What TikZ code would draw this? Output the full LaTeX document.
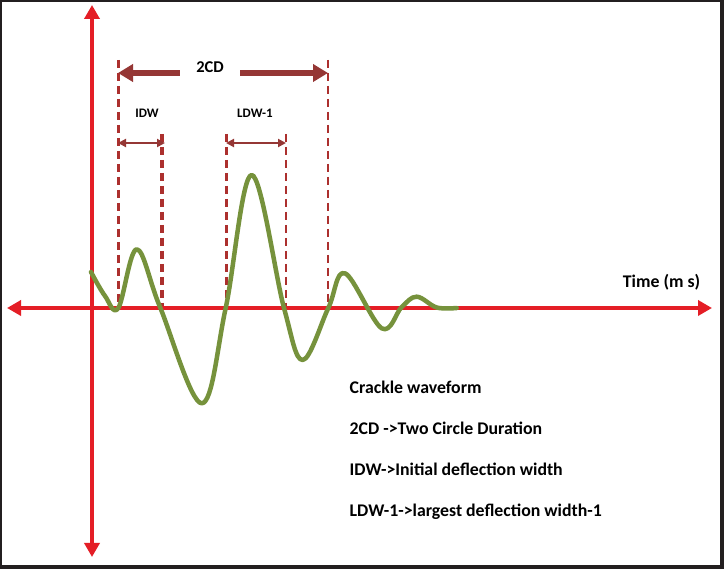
\documentclass[tikz,border=0pt]{standalone}
\usepackage{fontspec}
\setmainfont{Carlito}
\usetikzlibrary{arrows.meta, positioning}
\definecolor{RougeAxe}{RGB}{228,30,38}
\definecolor{Bordeaux}{RGB}{149,55,53}
\definecolor{BordeauxClair}{RGB}{172,48,46}
\definecolor{VertOlive}{RGB}{118,146,60}
\definecolor{GrisCadre}{RGB}{35,31,32}
\tikzset{axe/.style={draw=RougeAxe, line width=4pt,
  {Triangle[length=14pt,width=15pt]}-{Triangle[length=14pt,width=15pt]}}}
\tikzset{pointille/.style={draw=BordeauxClair, line width=2pt, dash pattern=on 8pt off 5pt}}
\tikzset{fleche/.style={draw=Bordeaux, line width=6pt, -{Triangle[length=15pt,width=17pt]}}}
\tikzset{fl/.style={draw=Bordeaux, line width=2.5pt,
  {Triangle[length=8pt,width=8pt]}-{Triangle[length=8pt,width=8pt]}}}
\tikzset{onde/.style={draw=VertOlive, line width=4.5pt, line join=round, line cap=round}}
\tikzset{legende/.style={inner sep=0pt, anchor=base west, font=\fontsize{17.8pt}{21pt}\selectfont\bfseries}}
\tikzset{etiq/.style={inner sep=0pt, anchor=base, font=\fontsize{13pt}{15pt}\selectfont\bfseries}}

\begin{document}
\begin{tikzpicture}[x=1pt, y=-1pt]
\useasboundingbox (0,0) rectangle (724,569);
% cadre
\fill[GrisCadre] (0,0) rectangle (724,569);
\fill[white] (2,2) rectangle (720,565);
% lignes pointillees
\foreach \n/\x/\h/\e in {a/118/60/3, b/162/134/3.2, c/226/134/3, d/286/134/2, e/328/60/2} {
  \coordinate (h\n) at (\x,\h);
  \coordinate (b\n) at (\x,308);
  \draw[pointille, line width=\e pt] (h\n) -- (b\n);
}
% axes
\coordinate (gauche) at (7,308); \coordinate (droite) at (712,308);
\coordinate (haut) at (92,5); \coordinate (bas) at (92,557);
\draw[axe] (gauche) -- (droite);
\draw[axe] (bas) -- (haut);
% onde
\draw[onde] plot[smooth, tension=0.6] coordinates {(91,272) (105,296) (118.3,308)
  (136.7,249.3) (160,307) (201.7,403.3) (225.7,308) (251.7,175) (284,308) (302.7,360)
  (328.3,308) (345,273.3) (381.7,328.3) (401.7,307) (416.7,296.7) (436.7,307.5) (456.7,308)};
% 2CD
\node[etiq, font=\fontsize{16.5pt}{19pt}\selectfont\bfseries, minimum width=60pt] (cd) at (210,73) {2CD};
\draw[fleche] (cd.base west) -- (ha |- cd.base);
\draw[fleche] (cd.base east) -- (he |- cd.base);
% IDW et LDW-1
\node[etiq] (idw) at (147,117.3) {IDW};
\node[etiq] (ldw) at (255,117.3) {LDW-1};
\coordinate (niv) at (0,143);
\draw[fl] (ha |- niv) -- ([xshift=3pt]hb |- niv);
\draw[fl] (hc |- niv) -- (hd |- niv);
% textes
\node[legende] (temps) at (622.7,288) {Time (m s)};
\node[legende] (l1) at (349.5,393.7) {Crackle waveform};
\node[legende, below=40.8pt of l1.base west, anchor=base west] (l2) {2CD ->Two Circle Duration};
\node[legende, below=40.8pt of l2.base west, anchor=base west] (l3) {IDW->Initial deflection width};
\node[legende, below=40.8pt of l3.base west, anchor=base west] (l4) {LDW-1->largest deflection width-1};
\end{tikzpicture}
\end{document}
